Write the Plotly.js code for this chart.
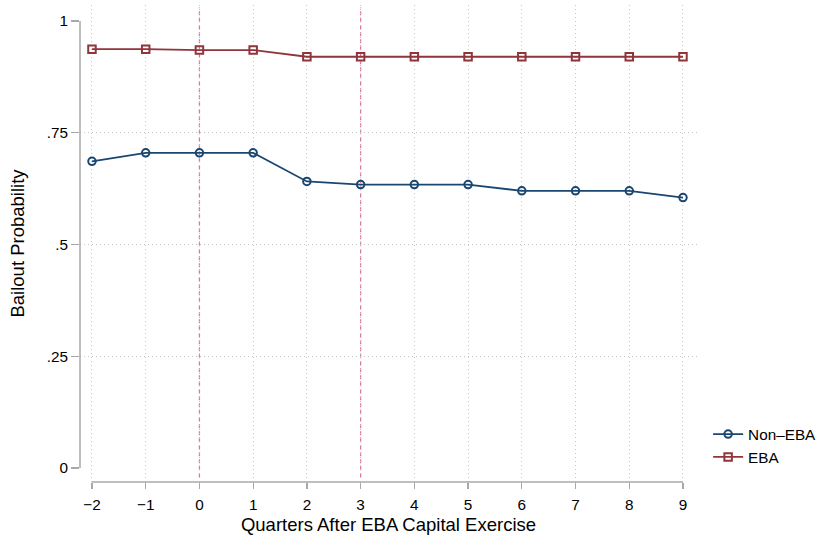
<!DOCTYPE html>
<html>
<head>
<meta charset="utf-8">
<script src="https://cdn.plot.ly/plotly-3.0.1.min.js"></script>
<style>html,body{margin:0;padding:0;background:#fff;}#chart{width:818px;height:535px;}</style>
</head>
<body>
<div id="chart"></div>
<script>
const quarters = [-2, -1, 0, 1, 2, 3, 4, 5, 6, 7, 8, 9];
const nonEBA = [0.686, 0.705, 0.705, 0.705, 0.641, 0.634, 0.634, 0.634, 0.620, 0.620, 0.620, 0.605];
const eba = [0.937, 0.937, 0.935, 0.935, 0.920, 0.920, 0.920, 0.920, 0.920, 0.920, 0.920, 0.920];
const yTickVals = [0, 0.25, 0.5, 0.75, 1];
const yTickText = ['0', '.25', '.5', '.75', '1'];
const yGridVals = [0.25, 0.5, 0.75];
const eventLines = [0, 3];

const font = 'Liberation Sans, Arial, Helvetica, sans-serif';
const traces = [
  {x: quarters, y: nonEBA, name: 'Non\u2013EBA', type: 'scatter', mode: 'lines+markers',
   line: {color: '#1a476f', width: 1.8},
   marker: {symbol: 'circle-open', size: 7.5, color: '#1a476f', line: {width: 2}}},
  {x: quarters, y: eba, name: 'EBA', type: 'scatter', mode: 'lines+markers',
   line: {color: '#90353b', width: 1.8},
   marker: {symbol: 'square-open', size: 7.5, color: '#90353b', line: {width: 2}}}
];

const shapes = eventLines.map(v => ({
  type: 'line', xref: 'x', yref: 'paper', x0: v, x1: v, y0: 0.01, y1: 0.995,
  line: {color: '#d57ca2', width: 1.3, dash: '4px,3px'}, layer: 'below'
}));
shapes.push({type: 'line', xref: 'paper', yref: 'y', x0: 0, x1: 0, y0: 0, y1: 1,
  line: {color: '#a8a8a8', width: 1.5}});
shapes.push({type: 'line', xref: 'x', yref: 'paper', x0: quarters[0], x1: quarters[quarters.length-1], y0: 0, y1: 0,
  line: {color: '#a8a8a8', width: 1.5}});

const layout = {
  width: 818, height: 535,
  margin: {l: 80, r: 121, t: 5, b: 53, autoexpand: false},
  paper_bgcolor: '#fff', plot_bgcolor: '#fff',
  font: {family: font, size: 15, color: '#000'},
  showlegend: true,
  legend: {x: 1.018, xanchor: 'left', y: 0.135, yanchor: 'top', font: {size: 15.3, family: font},
           bgcolor: 'rgba(0,0,0,0)', tracegroupgap: 0},
  xaxis: {range: [-2.223, 9.261], tickvals: quarters, showgrid: true, gridcolor: '#c4c4c4',
          griddash: '1px,3px', gridwidth: 1, zeroline: false, showline: false, automargin: false,
          ticks: 'outside', ticklen: 6, tickcolor: '#a8a8a8', tickwidth: 1.3, ticklabelstandoff: 3,
          tickfont: {size: 15.3, family: font},
          title: {text: 'Quarters After EBA Capital Exercise', font: {size: 18.5, family: font}, standoff: 6}},
  yaxis: {range: [-0.0313, 1.0358], tickvals: yTickVals, ticktext: yTickText, showgrid: false, automargin: false,
          zeroline: false, showline: false, ticks: 'outside', ticklen: 8, tickcolor: '#a8a8a8', tickwidth: 1.3,
          tickfont: {size: 15.3, family: font},
          title: {text: 'Bailout Probability', font: {size: 18.5, family: font}, standoff: 17}},
  yaxis2: {range: [-0.0313, 1.0358], overlaying: 'y', tickvals: yGridVals, showticklabels: false,
           showgrid: true, gridcolor: '#c4c4c4', griddash: '1px,3px', gridwidth: 1, zeroline: false, ticks: ''},
  shapes: shapes
};
traces.push({x: [quarters[0]], y: [0.5], yaxis: 'y2', showlegend: false, mode: 'markers',
  marker: {opacity: 0}, hoverinfo: 'skip', type: 'scatter'});
Plotly.newPlot('chart', traces, layout, {displayModeBar: false, staticPlot: true});
</script>
</body>
</html>
